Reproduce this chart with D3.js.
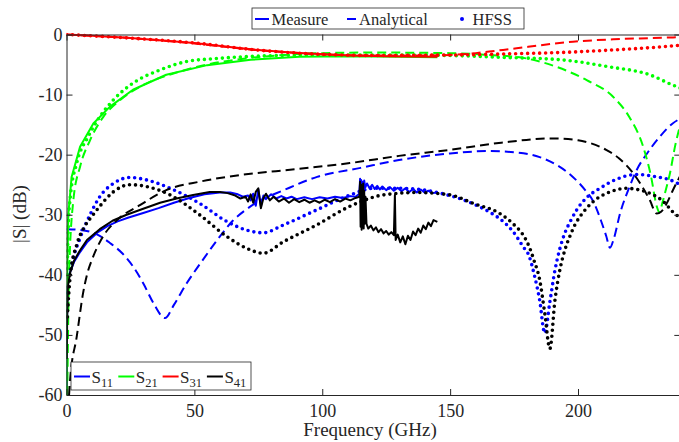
<!DOCTYPE html>
<html lang="en">
<head>
<meta charset="utf-8">
<style>
  body { margin: 0; background: #fff; }
  svg, svg text { font-family: "Liberation Serif", Tinos, "Times New Roman", "DejaVu Serif", serif; }
  .axis path, .axis line { stroke: #262626; stroke-width: 1; }
  .axis text { fill: #262626; font-size: 18px; }
  .meas { fill: none; stroke-width: 2; stroke-linejoin: round; }
  .anal { fill: none; stroke-width: 2; stroke-dasharray: 9,5; }
  .hfss { fill: none; stroke-width: 3.6; stroke-dasharray: 0,6; stroke-linecap: round; }
  .lbl { fill: #262626; }
</style>
<script src="https://d3js.org/d3.v7.min.js"></script>
</head>
<body>
<script>
var width = 679, height = 442;

// ticks
var xTicks = [0, 50, 100, 150, 200];
var yTicks = [-60, -50, -40, -30, -20, -10, 0];

// S11 ----------------------------------------------------------
var s11Meas = [[0.1,-60],[0.2,-48],[0.4,-42],[1,-40],[3,-37.8],[5,-36.4],[8,-34.6],[12,-33],[16,-31.9],[20,-31.1],[24,-30.5],[30,-29.7],[36,-28.9],[42,-28],[48,-27.2],[54,-26.6],[60,-26.3],[64,-26.3],[67,-26.6],[69,-27],[71,-26.8],[72,-27.6],[73,-26.5],[74,-28.5],[75,-25.8],[76,-28.6],[77,-26.8],[78,-27.4],[80,-26.6],[82,-27.3],[84,-26.9],[86,-27.3],[88,-27],[90,-27.4],[93,-27.1],[96,-27.4],[99,-27.1],[102,-27.3],[105,-27],[108,-27.2],[111,-26.9],[113,-27],[114.5,-26.5],[114.8,-24],[115,-26.5],[115.2,-24.2],[115.5,-26],[115.8,-24.5],[116.1,-25.8],[116.4,-24.3],[116.8,-25.5],[117.5,-24.8],[118.5,-25.6],[119.5,-25],[120.5,-25.7],[121.5,-25.2],[122.5,-25.8],[123.5,-25.3],[125,-25.9],[126.5,-25.4],[128,-26],[129.5,-25.5],[131,-26.1],[132.5,-25.6],[134,-26.2],[135.5,-25.7],[137,-26.3],[138.5,-25.8],[140,-26.3],[141.5,-26],[143,-26.4],[145,-26.3]];
var s11Anal = [[0,-32.4],[5,-32.5],[9,-32.8],[13,-33.5],[17,-34.7],[22,-36.5],[26,-38.6],[30,-41.4],[34,-44.7],[38.5,-47.2],[42,-45],[47,-41.4],[52,-38.3],[56,-35.9],[60,-33.6],[65,-31],[70,-29.2],[75,-27.8],[85,-25.9],[98,-23.7],[115,-22.2],[130,-20.9],[150,-19.8],[165,-19.4],[175,-19.6],[185,-20.4],[192,-21.8],[198,-23.7],[203,-26],[206,-27.8],[209,-31],[211,-33.5],[212.5,-35.5],[214,-34],[216.5,-29.7],[220,-25.5],[223,-22.5],[227,-19.8],[232,-17],[237,-14.8],[240,-14]];
var s11Hfss = [[0.5,-43],[0.8,-41.5],[2.7,-37.2],[5.3,-33.9],[9.2,-30],[13,-27],[18.3,-24.8],[24.8,-23.8],[31.3,-24.2],[40.5,-25.6],[52,-28.1],[62.6,-31.1],[70,-32.5],[77,-33],[84.8,-31.7],[97.8,-29.2],[111,-26.7],[120,-25.6],[130,-25.6],[140,-25.9],[146,-26.4],[155,-27.5],[161.6,-28.7],[166,-29.7],[170.7,-31.1],[174.6,-32.8],[178.5,-35.3],[181,-37],[182.8,-39.8],[185,-44.2],[187,-49.7],[189,-44.5],[191,-39.2],[193,-35.5],[195,-32.9],[197,-31.1],[199.5,-29.2],[203,-27.3],[208.6,-25.6],[215,-24.1],[223,-23.3],[230.8,-23.7],[236,-24.2],[240,-25]];

// S21 ----------------------------------------------------------
var s21Meas = [[0.05,-60],[0.3,-40],[0.7,-30],[2,-23.7],[5.3,-18.7],[10.5,-14.8],[17,-12],[26,-9.2],[39,-6.7],[55,-5.1],[72,-4.2],[91,-3.7],[110,-3.6],[130,-3.7],[145,-3.8]];
var s21Anal = [[0.3,-60],[1,-40],[2.7,-27.5],[5.3,-22],[9.2,-17.6],[14.4,-13.7],[21,-10.9],[30,-8.4],[41.8,-6.5],[55,-5],[70,-4],[85,-3.4],[100,-3.1],[120,-3],[150,-3.1],[165,-3.4],[180,-4],[191.7,-5.4],[203.4,-7.6],[213.8,-10.4],[220,-13.7],[225.5,-18.7],[228.5,-23.5],[230.8,-28.6],[231.8,-29.6],[233,-28],[234,-26.4],[236,-23],[238,-18.5],[240,-15]];
var s21Hfss = [[0.3,-40],[0.6,-33],[1.5,-27],[4,-21.4],[8.5,-17],[13,-13.7],[18.3,-10.9],[26,-8.1],[36.6,-5.9],[47,-4.5],[58.7,-4],[75,-3.6],[100,-3.4],[130,-3.4],[150,-3.5],[170,-3.8],[193,-4.2],[212.5,-5.4],[228,-6.7],[237,-8.4],[240,-8.9]];

// S31 ----------------------------------------------------------
var s31Meas = [[0,0],[10,-0.2],[25,-0.6],[40,-1.1],[50,-1.4],[62,-2],[75,-2.6],[88,-3],[100,-3.3],[112,-3.5],[125,-3.6],[145,-3.7]];
var s31Anal = [[0,0],[25,-0.6],[50,-1.5],[75,-2.6],[100,-3.3],[120,-3.5],[140,-3.5],[150,-3.4],[160,-3.1],[168,-2.7],[176,-2.3],[185,-1.8],[198,-1.2],[214,-0.8],[228,-0.6],[240,-0.45]];
var s31Hfss = [[0,0],[25,-0.6],[50,-1.4],[75,-2.6],[100,-3.3],[120,-3.5],[140,-3.45],[160,-3.35],[175,-3.2],[193,-3],[212.5,-2.6],[228,-2.2],[240,-1.8]];

// S41 ----------------------------------------------------------
var s41Meas = [[0.1,-54],[0.3,-46],[0.5,-42],[1.5,-39.5],[3,-37.6],[5.3,-35.9],[8,-34.2],[13,-32.4],[18,-31],[23.5,-30],[30,-29],[36.6,-28],[43,-27.3],[49.5,-26.7],[56,-26.2],[60,-26.2],[63,-26.4],[66,-26.8],[68,-27.3],[70,-27],[71,-27.8],[72,-26.6],[73,-28],[74,-26.2],[75,-25.6],[76,-28.9],[77,-27.2],[78,-26.5],[79.5,-27.6],[81,-27],[83,-27.8],[85,-27.3],[87,-28],[89,-27.4],[91,-27.9],[93,-27.5],[95,-28],[97,-27.6],[99,-28],[101,-27.5],[103,-27.9],[105,-27.4],[107,-27.8],[109,-27.3],[111,-27.6],[113,-27.2],[114.5,-27],[114.8,-24.5],[115,-32],[115.2,-25],[115.4,-32.5],[115.6,-25.5],[115.8,-31.8],[116,-24.8],[116.2,-32.3],[116.4,-26],[116.6,-31.5],[116.9,-27],[117.3,-31.5],[118,-32.3],[119,-31.8],[120,-32.6],[121,-32.1],[122,-32.9],[123,-32.4],[124,-33.1],[125,-32.7],[126,-33.3],[127,-32.9],[128,-33.4],[128.4,-26.7],[128.7,-34.2],[129.5,-33.3],[130.5,-34.6],[131.5,-33.6],[132.5,-34.9],[133.5,-33.5],[134.5,-34.2],[135.5,-32.8],[136.5,-33.4],[137.5,-32.3],[138.5,-33],[139.5,-31.8],[140.5,-32.4],[141.5,-31.3],[142.5,-31.9],[143.5,-30.9],[145,-31.2]];
var s41Anal = [[1,-60],[1.4,-57.5],[4,-50.3],[6.5,-43],[8,-40],[10.4,-37],[14.3,-33.6],[20,-30.8],[28.7,-28.4],[39,-25.9],[52,-24.5],[67.8,-23.4],[90,-22.4],[110.8,-21.4],[130,-20.2],[150,-19.2],[170,-18],[190,-17.3],[200,-17.6],[205,-18.1],[211,-19.2],[216,-20.6],[221.6,-23.1],[228,-27.5],[230.8,-29.8],[232.5,-29.5],[234.7,-28.1],[237,-26],[240,-23.5]];
var s41Hfss = [[0.3,-47],[1.5,-40],[4,-35],[7,-32],[9.9,-30.3],[13,-28.6],[18.3,-26.2],[24.8,-25],[31.3,-25.3],[40.5,-26.7],[52,-30],[62.6,-33.6],[70.5,-35.6],[77,-36.4],[84.8,-34.5],[97.8,-31.7],[110.8,-28.6],[123.9,-26.7],[137,-26.3],[150,-26.7],[159,-28.1],[169.4,-29.8],[174.6,-31.5],[179.3,-33.9],[181,-35.4],[182.8,-37.6],[185,-40.8],[187,-46.4],[189,-52.3],[191,-44.2],[193,-39],[195,-35.7],[197,-33.4],[199,-31.5],[200.8,-30.3],[206,-27.8],[212.5,-26.2],[219,-25.6],[224.2,-25.9],[229.5,-26.7],[233.4,-27.8],[237,-29.5],[240,-30.5]];

var seriesNames = ["11", "21", "31", "41"];
var seriesColors = ["#0000ff", "#00ff00", "#ff0000", "#000000"];
var typeNames = ["Measure", "Analytical", "HFSS"];

var series = [
  {sub: seriesNames[0], color: seriesColors[0], meas: s11Meas, anal: s11Anal, hfss: s11Hfss},
  {sub: seriesNames[1], color: seriesColors[1], meas: s21Meas, anal: s21Anal, hfss: s21Hfss},
  {sub: seriesNames[2], color: seriesColors[2], meas: s31Meas, anal: s31Anal, hfss: s31Hfss},
  {sub: seriesNames[3], color: seriesColors[3], meas: s41Meas, anal: s41Anal, hfss: s41Hfss}
];

// plot box (window.top is read-only, so no bare "top")
var box = {l: 66.5, r: 680.3, t: 34.5, b: 395};

var x = d3.scaleLinear().domain([0, 240]).range([box.l, box.r]);
var y = d3.scaleLinear().domain([-60, 0]).range([box.b, box.t]);

var svg = d3.select("body").append("svg")
  .attr("width", width)
  .attr("height", height);

svg.append("defs").append("clipPath").attr("id", "plotclip")
  .append("rect")
  .attr("x", box.l).attr("y", box.t - 2)
  .attr("width", box.r - box.l).attr("height", box.b - box.t + 2);

var lineRaw = d3.line().x(function(d) { return x(d[0]); }).y(function(d) { return y(d[1]); });
var lineSmooth = d3.line().curve(d3.curveMonotoneX)
  .x(function(d) { return x(d[0]); }).y(function(d) { return y(d[1]); });

var plot = svg.append("g").attr("clip-path", "url(#plotclip)");

series.forEach(function(s) {
  plot.append("path").datum(s.meas).attr("class", "meas").attr("stroke", s.color).attr("d", lineRaw);
  plot.append("path").datum(s.anal).attr("class", "anal").attr("stroke", s.color).attr("d", lineSmooth);
  plot.append("path").datum(s.hfss).attr("class", "hfss").attr("stroke", s.color).attr("d", lineSmooth);
});

// axes, ticks inward
var fmt = function(d) { return String(d); };
var serif = "'Liberation Serif', Tinos, 'Times New Roman', 'DejaVu Serif', serif";
svg.append("g").attr("class", "axis")
  .attr("transform", "translate(0," + box.b + ")")
  .call(d3.axisBottom(x).tickValues(xTicks).tickSizeInner(-6).tickSizeOuter(0).tickPadding(9).tickFormat(fmt))
  .call(function(g) { g.selectAll("text").attr("dy", "0.71em"); });
svg.append("g").attr("class", "axis")
  .attr("transform", "translate(0," + box.t + ")")
  .call(d3.axisTop(x).tickValues(xTicks).tickSizeInner(-6).tickSizeOuter(0).tickFormat(""));
svg.append("g").attr("class", "axis")
  .attr("transform", "translate(" + box.l + ",0)")
  .call(d3.axisLeft(y).tickValues(yTicks).tickSizeInner(-6).tickSizeOuter(0).tickPadding(4).tickFormat(fmt));
svg.append("g").attr("class", "axis")
  .attr("transform", "translate(" + box.r + ",0)")
  .call(d3.axisRight(y).tickValues(yTicks).tickSizeInner(-6).tickSizeOuter(0).tickFormat(""));
svg.selectAll(".axis").attr("font-family", serif).attr("font-size", 18);

// axis titles
svg.append("text").attr("class", "lbl")
  .attr("x", 370).attr("y", 436)
  .attr("text-anchor", "middle").attr("font-size", 19).attr("font-family", serif)
  .text("Frequency (GHz)");
svg.append("text").attr("class", "lbl")
  .attr("transform", "translate(25.5,214) rotate(-90)")
  .attr("text-anchor", "middle").attr("font-size", 19).attr("font-family", serif)
  .text("|S| (dB)");

// top legend (line styles)
var lgTop = svg.append("g").attr("font-family", serif);
lgTop.append("rect").attr("x", 252).attr("y", 8).attr("width", 272).attr("height", 21)
  .attr("fill", "#fff").attr("stroke", "#262626").attr("stroke-width", 0.8);
lgTop.append("line").attr("x1", 255).attr("x2", 269).attr("y1", 19).attr("y2", 19)
  .attr("stroke", seriesColors[0]).attr("stroke-width", 2);
lgTop.append("line").attr("x1", 347).attr("x2", 356).attr("y1", 19).attr("y2", 19)
  .attr("stroke", seriesColors[0]).attr("stroke-width", 2);
lgTop.append("circle").attr("cx", 462).attr("cy", 19).attr("r", 2).attr("fill", seriesColors[0]);
[271.5, 359, 472.5].forEach(function(tx, i) {
  lgTop.append("text").attr("class", "lbl").attr("x", tx).attr("y", 25)
    .attr("font-size", 16.5).text(typeNames[i]);
});

// bottom legend (series colours)
var lgBot = svg.append("g").attr("font-family", serif);
lgBot.append("rect").attr("x", 71).attr("y", 362).attr("width", 180).attr("height", 28)
  .attr("fill", "#fff").attr("stroke", "#262626").attr("stroke-width", 0.8);
series.forEach(function(s, i) {
  var x0 = 74 + i * 44.3;
  lgBot.append("line").attr("x1", x0).attr("x2", x0 + 16).attr("y1", 376.5).attr("y2", 376.5)
    .attr("stroke", s.color).attr("stroke-width", 2);
  var t = lgBot.append("text").attr("class", "lbl").attr("x", x0 + 17.5).attr("y", 383)
    .attr("font-size", 17);
  t.append("tspan").text("S");
  t.append("tspan").attr("font-size", 12.5).attr("dy", 4).text(s.sub);
});
</script>
</body>
</html>
